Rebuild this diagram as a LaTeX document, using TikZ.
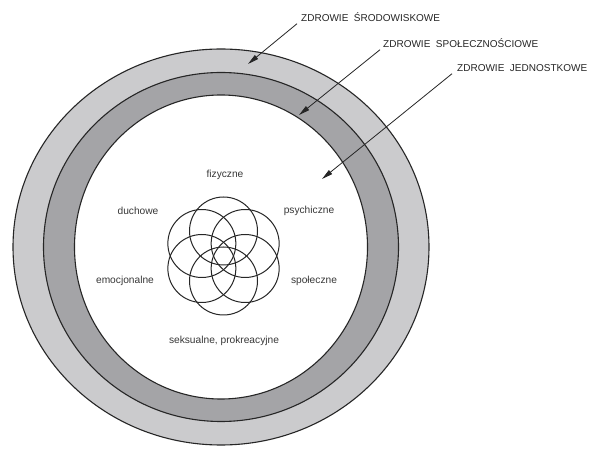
\documentclass[tikz,border=0pt]{standalone}
\usepackage{fontspec}
\setmainfont{Liberation Sans}
\usetikzlibrary{arrows.meta,calc}
\definecolor{bandlight}{HTML}{CBCBCD}
\definecolor{banddark}{HTML}{A4A4A7}
\definecolor{txt}{HTML}{383838}
\begin{document}
\begin{tikzpicture}[x=1pt,y=-1pt,
  ring/.style={draw=black!85,line width=1.1pt},
  petal/.style={draw=black!85,line width=1pt},
  dimlabel/.style={font=\fontsize{10.2}{12}\selectfont,text=txt,inner sep=0pt},
  toplabel/.style={font=\fontsize{10}{12}\selectfont,text=black!85,inner sep=0pt,anchor=west},
  arr/.style={draw=black!85,line width=0.8pt,-{Triangle[length=11pt,width=5pt]}}]
\useasboundingbox[fill=white] (0,0) rectangle (590,462);
% rings
\coordinate (c) at (221,247);
\fill[bandlight] (c) ellipse [x radius=208pt, y radius=198pt];
\draw[ring] (c) ellipse [x radius=208pt, y radius=198pt];
\fill[banddark] (c) ellipse [x radius=177.5pt, y radius=174.5pt];
\draw[ring] (c) ellipse [x radius=177.5pt, y radius=174.5pt];
\fill[white] (c) ellipse [x radius=146.5pt, y radius=152pt];
\draw[ring] (c) ellipse [x radius=146.5pt, y radius=152pt];
% flower
\coordinate (f) at (223.5,256);
\foreach \a in {90,30,-30,-90,-150,150}{
  \draw[petal] ($(f)+(\a:25pt)$) circle [radius=34pt];
}
% dimension labels
\node[dimlabel] (fiz) at (225,175) {fizyczne};
\node[dimlabel] (duch) at (138,211) {duchowe};
\node[dimlabel] (psy) at (309,211) {psychiczne};
\node[dimlabel] (emo) at (125,281) {emocjonalne};
\node[dimlabel] (spo) at (314,281) {społeczne};
\node[dimlabel] (sek) at (224,341) {seksualne, prokreacyjne};
% top labels
\node[toplabel] (l1) at (301,17) {ZDROWIE\ \ ŚRODOWISKOWE};
\node[toplabel] (l2) at (383,43) {ZDROWIE\ \ SPOŁECZNOŚCIOWE};
\node[toplabel] (l3) at (457,68) {ZDROWIE\ \ JEDNOSTKOWE};
\coordinate (t1) at (248,64);
\coordinate (t2) at (299,115);
\coordinate (t3) at (322,179);
\draw[arr] ([shift={(-4pt,-2pt)}]l1.south west) -- (t1);
\draw[arr] ([shift={(-3pt,-2pt)}]l2.south west) -- (t2);
\draw[arr] ([shift={(-5pt,-2pt)}]l3.south west) -- (t3);
\end{tikzpicture}
\end{document}
